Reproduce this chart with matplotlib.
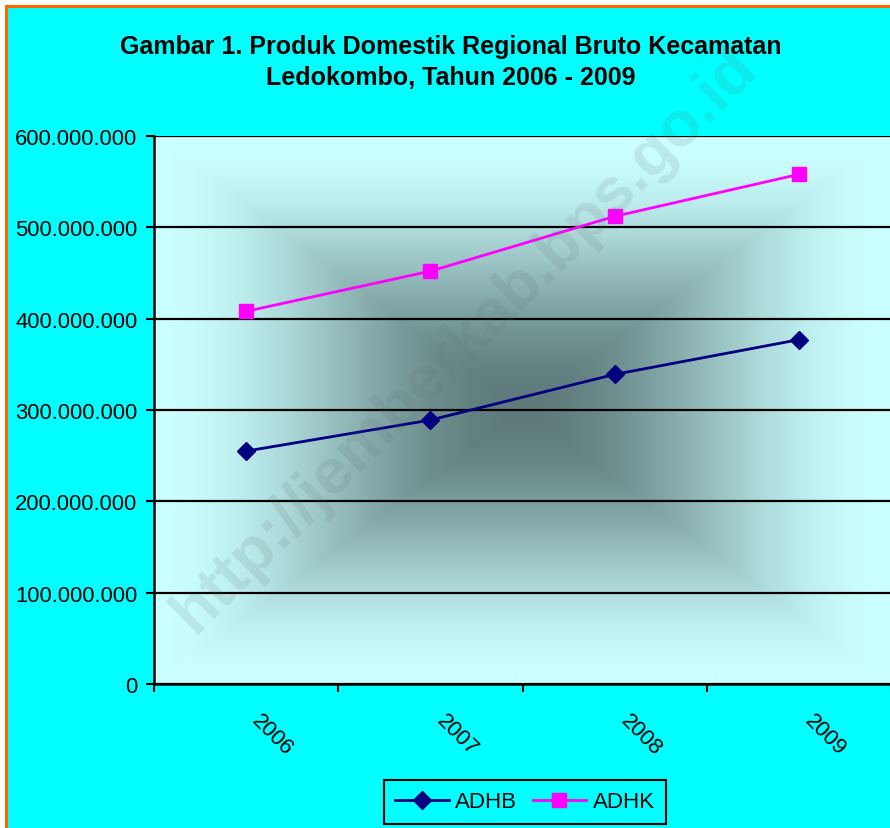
import numpy as np
import matplotlib.pyplot as plt
from matplotlib.patches import Rectangle
from matplotlib.transforms import offset_copy

plt.rcParams["font.family"] = ["Liberation Sans", "DejaVu Sans"]

years = ["2006", "2007", "2008", "2009"]
adhb = [255_000_000, 289_000_000, 339_000_000, 377_000_000]
adhk = [408_000_000, 452_000_000, 512_000_000, 558_000_000]
yticks = [0, 100_000_000, 200_000_000, 300_000_000, 400_000_000, 500_000_000, 600_000_000]
ytick_labels = ["0", "100.000.000", "200.000.000", "300.000.000",
                "400.000.000", "500.000.000", "600.000.000"]

W, H = 890, 829
fig = plt.figure(figsize=(W / 100, H / 100), dpi=100)
fig.patch.set_facecolor("white")

# chart area: cyan with orange border (right/bottom cut off by the picture)
fig.add_artist(Rectangle((5.5 / W, -0.05), 1.1, 1 - 6.5 / H + 0.05,
                         transform=fig.transFigure, facecolor="#00ffff",
                         edgecolor="#ff6600", lw=2.2, zorder=0))

ax = fig.add_axes([154 / W, 1 - 685 / H, 737 / W, 548 / H])
ax.set_facecolor("none")

# rectangular "from center" gradient of the plot area
nx, ny = 400, 300
u = np.linspace(-1, 1, nx)
v = np.linspace(-1, 1, ny)
U, V = np.meshgrid(u, v)
t = np.maximum(np.abs(U), np.abs(V))
f = 3 * t ** 2 - 2 * t ** 3
dark = np.array([0x5e, 0x7a, 0x7a]) / 255
light = np.array([0xcc, 0xff, 0xff]) / 255
img = dark + (light - dark) * f[..., None]
ax.imshow(img, extent=[0, 4, 0, 600_000_000], aspect="auto", zorder=0,
          interpolation="bilinear")

x = np.arange(len(years)) + 0.5
ax.plot(x, adhb, color="#000080", lw=2, marker="D", ms=9, label="ADHB", zorder=4)
ax.plot(x, adhk, color="#ff00ff", lw=2, marker="s", ms=10, label="ADHK", zorder=4)

ax.set_xlim(0, 4)
ax.set_ylim(0, 600_000_000)
ax.set_yticks(yticks)
ax.set_yticklabels(ytick_labels, fontsize=15.8)
ax.set_xticks([0, 1, 2, 3, 4])
ax.set_xticklabels([])
ax.tick_params(axis="both", direction="out", length=6, width=1.5, color="black")
ax.tick_params(axis="y", pad=6)
ax.yaxis.grid(True, color="black", lw=1.6)
ax.set_axisbelow(False)
for s in ["top", "right"]:
    ax.spines[s].set_visible(False)
for s in ["left", "bottom"]:
    ax.spines[s].set_linewidth(1.8)

lab_tr = offset_copy(ax.get_xaxis_transform(), fig=fig, x=9, y=-33, units="dots")
for xi, yr in zip(x, years):
    ax.text(xi, 0, yr, transform=lab_tr, rotation=-45, rotation_mode="anchor",
            ha="left", va="center", fontsize=15.8)

fig.text(451 / W, 1 - 62.5 / H,
         "Gambar 1. Produk Domestik Regional Bruto Kecamatan\nLedokombo, Tahun 2006 - 2009",
         ha="center", va="center", fontsize=18, fontweight="bold", linespacing=1.32)

# watermark
fig.text(465 / W, 1 - 340 / H, "http://jemberkab.bps.go.id", rotation=45,
         ha="center", va="center", fontsize=46, fontweight="bold",
         color="#607070", alpha=0.14, zorder=3)

leg = ax.legend(loc="center", bbox_to_anchor=(525 / W, 1 - 803 / H),
                bbox_transform=fig.transFigure, ncol=2, fontsize=16,
                fancybox=False, edgecolor="black", facecolor="#00ffff",
                framealpha=1, handlelength=2.4, columnspacing=0.7,
                handletextpad=0.3, borderpad=0.5)
leg.get_frame().set_linewidth(1.5)

fig.savefig("out.png", dpi=100)
